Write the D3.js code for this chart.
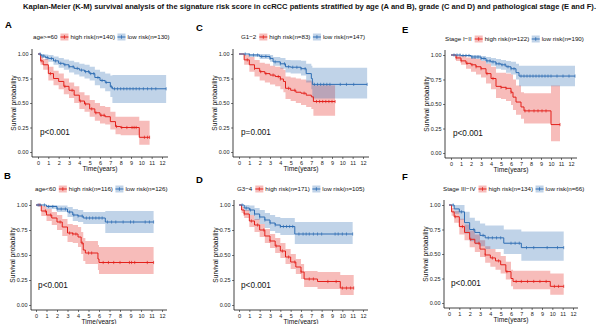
<!DOCTYPE html>
<html lang="en">
<head>
<meta charset="UTF-8">
<title>K-M survival panels</title>
<script src="https://d3js.org/d3.v7.min.js"></script>
<style>
    body { margin: 0; background: #fff; }
    svg { display: block; font-family: Arial, "Liberation Sans", sans-serif; }
    .tick text { font-size: 5.5px; fill: #222; }
    .tick line { stroke: #222; stroke-width: 0.6; }
</style>
</head>
<body>
<div id="container"></div>
<script>
// each row: [time, survival, lower CI, upper CI]
const aHigh = [[0,1,1,1],[0.25,0.93,0.89,0.97],[0.5,0.89,0.84,0.95],[1,0.80,0.73,0.87],[1.5,0.75,0.68,0.83],[2,0.72,0.64,0.80],[2.5,0.67,0.59,0.75],[3,0.63,0.55,0.71],[3.5,0.58,0.50,0.67],[4,0.52,0.44,0.61],[4.5,0.49,0.41,0.58],[5,0.44,0.36,0.53],[5.5,0.40,0.32,0.50],[6,0.375,0.29,0.47],[6.5,0.36,0.28,0.46],[7,0.31,0.23,0.41],[7.5,0.26,0.18,0.36],[8,0.25,0.17,0.36],[9.8,0.15,0.075,0.32],[10.8,0.15,0.075,0.32]];
const aLow = [[0,1,1,1],[0.3,0.98,0.96,1],[0.7,0.965,0.94,0.995],[1,0.955,0.92,0.99],[1.5,0.93,0.89,0.975],[2,0.905,0.86,0.96],[2.5,0.89,0.84,0.945],[3,0.87,0.81,0.93],[3.5,0.853,0.79,0.915],[4,0.836,0.77,0.90],[4.5,0.82,0.75,0.89],[5,0.80,0.73,0.87],[5.5,0.76,0.68,0.84],[6,0.73,0.65,0.82],[6.5,0.71,0.62,0.80],[7,0.665,0.56,0.78],[7.2,0.645,0.50,0.785],[12.4,0.645,0.50,0.785]];
const aHighCens = [0.3,1.2,2.6,3.3,4.1,4.6,5.2,5.6,6.1,6.4,7.6,8.1,8.6,9.1,9.3,9.5,10.3,10.6,10.8];
const aLowCens = [0.2,0.5,0.9,1.3,1.7,2.2,2.6,3.0,3.4,3.8,4.2,4.6,4.9,5.1,5.4,5.8,6.2,6.6,7.1,7.4,7.7,8.0,8.3,8.6,8.9,9.2,9.5,9.8,10.2,10.6,11.0,11.4,12.4];

const bHigh = [[0,1,1,1],[0.5,0.94,0.89,0.99],[1,0.90,0.84,0.96],[1.5,0.87,0.80,0.93],[2,0.83,0.75,0.90],[2.5,0.78,0.69,0.86],[3,0.72,0.63,0.81],[3.5,0.71,0.62,0.80],[4,0.68,0.58,0.78],[4.3,0.62,0.51,0.73],[4.5,0.55,0.44,0.67],[4.7,0.52,0.41,0.64],[5.9,0.46,0.35,0.60],[6,0.425,0.31,0.58],[11.2,0.425,0.31,0.58]];
const bLow = [[0,1,1,1],[1,0.985,0.96,1],[2,0.96,0.93,0.995],[3,0.93,0.88,0.98],[3.5,0.90,0.84,0.96],[4,0.89,0.83,0.95],[4.5,0.87,0.81,0.93],[6.6,0.83,0.72,0.94],[11.2,0.83,0.72,0.94]];
const bHighCens = [0.3,0.9,1.4,2.3,3.2,3.5,3.8,4.4,5.0,5.3,6.4,6.9,7.4,8.0,8.9,9.1,9.4,10.6,11.2];
const bLowCens = [0.2,0.4,0.8,1.2,1.6,2.0,2.4,2.8,3.2,3.6,4.0,4.4,4.8,5.1,5.4,5.7,6.0,6.3,6.8,7.2,7.6,8.3,9.0,9.3,10.4,10.8,11.2];

const cHigh = [[0,1,1,1],[0.5,0.94,0.89,0.99],[1,0.89,0.82,0.97],[1.5,0.853,0.77,0.94],[2,0.82,0.73,0.91],[2.5,0.80,0.71,0.90],[3,0.785,0.69,0.88],[3.5,0.77,0.67,0.87],[4,0.745,0.64,0.86],[4.3,0.72,0.61,0.84],[4.5,0.65,0.54,0.77],[5,0.63,0.52,0.76],[5.5,0.61,0.50,0.75],[6,0.60,0.48,0.74],[6.5,0.58,0.46,0.73],[7,0.563,0.44,0.72],[7.2,0.515,0.37,0.68],[9.3,0.515,0.37,0.68]];
const cLow = [[0,1,1,1],[1,0.99,0.97,1],[2,0.975,0.95,1],[3,0.955,0.92,0.99],[3.3,0.92,0.88,0.97],[4,0.90,0.85,0.96],[4.5,0.87,0.81,0.94],[5,0.865,0.80,0.935],[6,0.85,0.78,0.93],[6.5,0.80,0.71,0.90],[7,0.75,0.64,0.88],[7.1,0.69,0.545,0.86],[12.4,0.69,0.545,0.86]];
const cHighCens = [0.8,1.5,2.1,2.6,3.3,3.8,4.0,4.8,5.4,6.3,7.5,7.8,8.1,8.4,8.7,9.0,9.3];
const cLowCens = [0.6,1.0,1.4,1.8,2.2,2.6,3.0,3.5,4.0,4.4,4.8,5.2,5.6,6.0,6.4,7.3,7.6,7.9,8.2,8.5,8.8,9.8,10.4,11.1,12.4];

const dHigh = [[0,1,1,1],[0.25,0.95,0.92,0.98],[0.5,0.91,0.87,0.95],[1,0.84,0.78,0.90],[1.5,0.80,0.73,0.86],[2,0.75,0.68,0.81],[2.5,0.69,0.62,0.76],[3,0.64,0.57,0.71],[3.5,0.59,0.52,0.67],[4,0.54,0.47,0.62],[4.5,0.48,0.41,0.56],[5,0.43,0.36,0.51],[5.5,0.38,0.31,0.46],[6,0.33,0.26,0.41],[6.3,0.26,0.18,0.34],[7.6,0.235,0.16,0.33],[9.8,0.17,0.10,0.30],[11.1,0.17,0.10,0.30]];
const dLow = [[0,1,1,1],[0.5,0.97,0.94,1],[1,0.95,0.90,0.995],[1.5,0.91,0.85,0.97],[2,0.88,0.81,0.95],[2.5,0.85,0.77,0.92],[3,0.82,0.74,0.90],[3.5,0.80,0.72,0.88],[4,0.785,0.70,0.87],[5.4,0.71,0.61,0.83],[11,0.71,0.61,0.83]];
const dHighCens = [0.5,1.2,1.8,2.4,3.0,3.6,4.2,4.8,5.4,6.0,6.8,7.2,8.6,9.4,10.0,10.4,10.8,11.1];
const dLowCens = [0.3,0.7,1.1,1.5,2.0,2.5,3.0,3.5,4.0,4.3,4.6,4.9,5.2,5.8,6.2,6.5,6.8,7.2,7.6,8.0,9.3,9.6,10.0,10.4,11.0];

const eHigh = [[0,1,1,1],[0.5,0.97,0.94,1],[1,0.94,0.90,0.99],[1.5,0.915,0.86,0.975],[2,0.90,0.83,0.97],[2.5,0.88,0.80,0.96],[3,0.86,0.77,0.94],[3.5,0.81,0.71,0.91],[4,0.76,0.65,0.88],[4.5,0.68,0.56,0.82],[5,0.67,0.55,0.82],[5.5,0.66,0.53,0.81],[6,0.62,0.49,0.80],[6.2,0.57,0.44,0.75],[6.5,0.52,0.39,0.69],[7,0.47,0.35,0.62],[7.3,0.43,0.30,0.61],[10,0.29,0.12,0.69],[10.9,0.29,0.12,0.69]];
const eLow = [[0,1,1,1],[1,0.995,0.985,1],[2,0.98,0.96,1],[3,0.965,0.94,0.99],[3.5,0.94,0.91,0.98],[4,0.93,0.89,0.97],[4.5,0.91,0.86,0.96],[5,0.90,0.85,0.95],[5.5,0.88,0.82,0.94],[6,0.86,0.80,0.93],[6.5,0.82,0.75,0.91],[6.8,0.785,0.68,0.89],[12.4,0.785,0.68,0.89]];
const eHighCens = [0.5,1.0,1.6,2.1,2.5,3.0,3.6,4.2,5.0,5.5,6.0,7.4,7.8,8.3,8.7,9.1,9.5,10.9];
const eLowCens = [0.3,0.6,0.9,1.2,1.5,1.8,2.1,2.4,2.7,3.0,3.3,3.6,3.9,4.2,4.5,4.8,5.1,5.4,5.7,6.0,6.3,7.0,7.3,7.6,7.9,8.2,8.5,8.8,9.1,9.4,9.7,10.0,10.6,11.2,11.8,12.4];

const fHigh = [[0,1,1,1],[0.25,0.93,0.89,0.97],[0.5,0.88,0.82,0.94],[1,0.78,0.70,0.86],[1.5,0.72,0.64,0.80],[2,0.65,0.57,0.74],[2.5,0.61,0.52,0.70],[3,0.55,0.47,0.64],[3.5,0.49,0.41,0.58],[4,0.46,0.37,0.55],[4.5,0.43,0.34,0.52],[5,0.39,0.30,0.48],[5.5,0.32,0.24,0.42],[6,0.25,0.17,0.34],[6.2,0.22,0.14,0.33],[9.8,0.17,0.085,0.30],[11.1,0.17,0.085,0.30]];
const fLow = [[0,1,1,1],[0.5,0.96,0.91,1],[1,0.93,0.85,1],[1.5,0.82,0.71,0.93],[2,0.75,0.63,0.87],[2.5,0.72,0.60,0.84],[3,0.69,0.58,0.81],[3.5,0.665,0.55,0.79],[5.3,0.61,0.50,0.75],[7,0.565,0.43,0.73],[11.1,0.565,0.43,0.73]];
const fHighCens = [0.6,1.3,2.1,2.9,3.5,4.2,4.8,5.6,6.5,7.0,7.6,8.2,8.8,9.4,10.2,10.6,11.1];
const fLowCens = [0.4,1.2,2.4,3.3,3.8,4.2,4.6,5.0,6.0,6.4,6.8,7.5,8.2,9.5,10.5,11.1];

const panelLetters = ['A','B','C','D','E','F'];
const strata = ['age>=60','age<60','G1\u22122','G3\u22124','Stage I\u2212II','Stage III\u2212IV'];
const highLabels = ['high risk(n=140)','high risk(n=116)','high risk(n=83)','high risk(n=171)','high risk(n=122)','high risk(n=134)'];
const lowLabels = ['low risk(n=130)','low risk(n=126)','low risk(n=147)','low risk(n=105)','low risk(n=190)','low risk(n=66)'];
const pValues = ['p<0.001','p<0.001','p=0.001','p<0.001','p<0.001','p<0.001'];
const yTicks = [0, 0.25, 0.5, 0.75, 1];
const xTicks = [0,1,2,3,4,5,6,7,8,9,10,11,12];

const titleText = 'Kaplan-Meier (K-M) survival analysis of the signature risk score in ccRCC patients stratified by age (A and B), grade (C and D) and pathological stage (E and F).';

const RED = '#e3201b';
const BLUE = '#2e6db3';

// layout of each panel in pixels
const layout = [
    {ax: 32,  x0: 38,  x12: 162, y1: 54,  y0: 152, bot: 157, lx: 5,   ly: 28,  leg: 37},
    {ax: 31,  x0: 36,  x12: 162, y1: 205, y0: 305, bot: 310, lx: 4,   ly: 179, leg: 189},
    {ax: 233, x0: 239, x12: 363, y1: 54,  y0: 152, bot: 157, lx: 196, ly: 31,  leg: 37},
    {ax: 234, x0: 239, x12: 363, y1: 205, y0: 305, bot: 310, lx: 196, ly: 183, leg: 189},
    {ax: 445, x0: 451, x12: 571, y1: 55,  y0: 153, bot: 158, lx: 402, ly: 33,  leg: 39},
    {ax: 444, x0: 449, x12: 573, y1: 205, y0: 303, bot: 308, lx: 402, ly: 180, leg: 189}
];
const legendX = [33, 35, 241, 237, 445, 443];

const curves = [
    [aHigh, aLow, aHighCens, aLowCens],
    [bHigh, bLow, bHighCens, bLowCens],
    [cHigh, cLow, cHighCens, cLowCens],
    [dHigh, dLow, dHighCens, dLowCens],
    [eHigh, eLow, eHighCens, eLowCens],
    [fHigh, fLow, fHighCens, fLowCens]
];

const svg = d3.select('#container').append('svg')
    .attr('width', 600).attr('height', 324);

svg.append('text')
    .attr('x', 23).attr('y', 9)
    .attr('font-size', 6.4).attr('font-weight', 'bold')
    .attr('textLength', 573).attr('lengthAdjust', 'spacingAndGlyphs')
    .attr('fill', '#111')
    .text(titleText);

// survival value at time t from a step table
function survAt(tbl, t) {
    let s = 1;
    tbl.forEach(r => { if (r[0] <= t) s = r[1]; });
    return s;
}

layout.forEach((L, i) => {
    const g = svg.append('g');
    const x = d3.scaleLinear().domain([0, 12]).range([L.x0, L.x12]);
    const y = d3.scaleLinear().domain([0, 1]).range([L.y0, L.y1]);
    const [hi, lo, hiC, loC] = curves[i];

    // letter
    g.append('text').attr('x', L.lx).attr('y', L.ly)
        .attr('font-size', 9.5).attr('font-weight', 'bold').text(panelLetters[i]);

    // bands
    const area = d3.area().curve(d3.curveStepAfter)
        .x(d => x(d[0])).y0(d => y(d[2])).y1(d => y(d[3]));
    g.append('path').datum(hi).attr('d', area).attr('fill', RED).attr('fill-opacity', 0.3);
    g.append('path').datum(lo).attr('d', area).attr('fill', BLUE).attr('fill-opacity', 0.3);

    // lines
    const line = d3.line().curve(d3.curveStepAfter).x(d => x(d[0])).y(d => y(d[1]));
    [[hi, hiC, RED], [lo, loC, BLUE]].forEach(([tbl, cens, col]) => {
        g.append('path').datum(tbl).attr('d', line)
            .attr('fill', 'none').attr('stroke', col).attr('stroke-width', 1);
        g.selectAll(null).data(cens).enter().append('line')
            .attr('x1', d => x(d)).attr('x2', d => x(d))
            .attr('y1', d => y(survAt(tbl, d)) - 1.6)
            .attr('y2', d => y(survAt(tbl, d)) + 1.6)
            .attr('stroke', col).attr('stroke-width', 0.7);
    });

    // axes
    const yAxis = d3.axisLeft(y).tickValues(yTicks).tickFormat(d3.format('.2f')).tickSize(2).tickPadding(1.5);
    g.append('g').attr('transform', `translate(${L.ax},0)`).call(yAxis)
        .call(a => a.select('.domain').remove());
    const xAxis = d3.axisBottom(x).tickValues(xTicks).tickSize(2).tickPadding(2);
    g.append('g').attr('transform', `translate(0,${L.bot})`).call(xAxis)
        .call(a => a.select('.domain').remove());
    const right = L.x12 + (L.x0 - L.ax);
    g.append('line').attr('x1', L.ax).attr('x2', L.ax)
        .attr('y1', L.y1 - (L.bot - L.y0)).attr('y2', L.bot)
        .attr('stroke', '#111').attr('stroke-width', 0.8);
    g.append('line').attr('x1', L.ax).attr('x2', right)
        .attr('y1', L.bot).attr('y2', L.bot)
        .attr('stroke', '#111').attr('stroke-width', 0.8);

    // axis titles
    g.append('text').attr('x', (L.ax + right) / 2).attr('y', L.bot + 13.5)
        .attr('text-anchor', 'middle').attr('font-size', 6.6).attr('fill', '#111')
        .text('Time(years)');
    g.append('text')
        .attr('transform', `translate(${L.ax - 16},${(L.y0 + L.y1) / 2}) rotate(-90)`)
        .attr('text-anchor', 'middle').attr('font-size', 6.6).attr('fill', '#111')
        .text('Survival probability');

    // p value
    g.append('text').attr('x', x(0.2)).attr('y', y(0.2))
        .attr('dy', '0.35em').attr('font-size', 8.2).attr('fill', '#111')
        .text(pValues[i]);

    // legend
    const lg = g.append('g').attr('transform', `translate(${legendX[i]},${L.leg})`);
    let cx = 0;
    const t0 = lg.append('text').attr('x', cx).attr('dy', '0.35em')
        .attr('font-size', 6.2).attr('fill', '#111').text(strata[i]);
    cx += t0.node().getComputedTextLength() + 3;
    [[highLabels[i], RED], [lowLabels[i], BLUE]].forEach(([lab, col]) => {
        lg.append('rect').attr('x', cx).attr('y', -3.5).attr('width', 8).attr('height', 7)
            .attr('fill', col).attr('fill-opacity', 0.3);
        lg.append('line').attr('x1', cx).attr('x2', cx + 8).attr('y1', 0).attr('y2', 0)
            .attr('stroke', col).attr('stroke-width', 1);
        lg.append('line').attr('x1', cx + 4).attr('x2', cx + 4).attr('y1', -1.8).attr('y2', 1.8)
            .attr('stroke', col).attr('stroke-width', 0.8);
        cx += 10;
        const tt = lg.append('text').attr('x', cx).attr('dy', '0.35em')
            .attr('font-size', 6.2).attr('fill', '#111').text(lab);
        cx += tt.node().getComputedTextLength() + 2.5;
    });
});
</script>
</body>
</html>
